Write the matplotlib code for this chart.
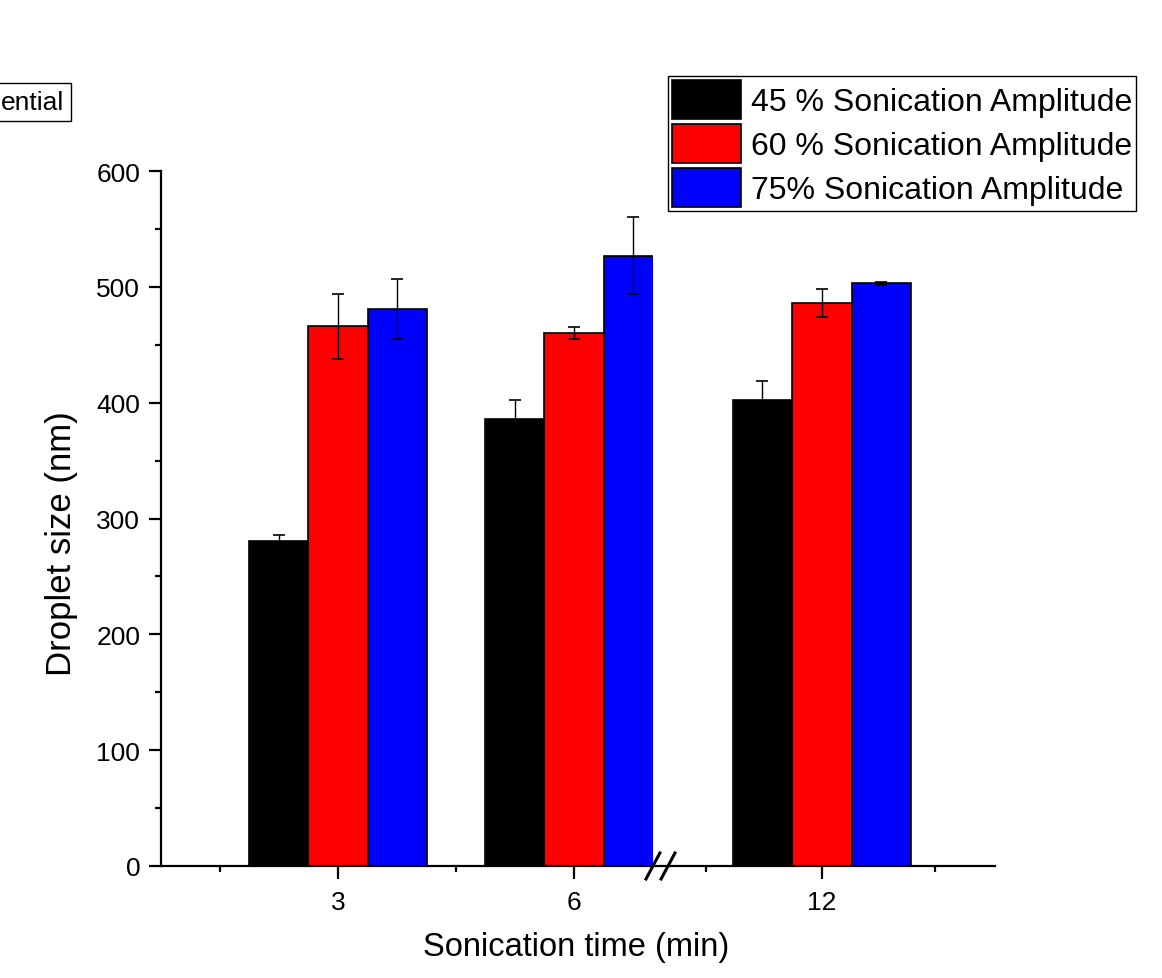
import matplotlib
matplotlib.use("Agg")
import matplotlib.pyplot as plt
from matplotlib.patches import Rectangle
import numpy as np

plt.rcParams['font.family'] = ['Liberation Sans', 'DejaVu Sans']

# data
time_labels = ['3', '6', '12']
series_names = ['45 % Sonication Amplitude', '60 % Sonication Amplitude', '75% Sonication Amplitude']
size_45 = [281, 386, 402]
size_60 = [466, 460, 486]
size_75 = [481, 527, 503]
err_45 = [5, 16, 17]
err_60 = [28, 5, 12]
err_75 = [26, 33, 1.5]
colors = ['#000000', '#ff0000', '#0000ff']

# layout (axis has a break between 6 and 12)
group_pos = np.array([0.0, 1.0, 2.05])
bar_w = 0.252
offsets = [-bar_w, 0.0, bar_w]
break_x = 1.335

fig = plt.figure(figsize=(11.62, 9.79), dpi=100)
ax = fig.add_axes([161 / 1162, 1 - 867 / 979, 834 / 1162, 695 / 979])

values = [size_45, size_60, size_75]
errors = [err_45, err_60, err_75]
bars = []
for vals, errs, col, off, name in zip(values, errors, colors, offsets, series_names):
    b = ax.bar(group_pos + off, vals, width=bar_w, color=col, edgecolor='black',
               linewidth=1.2, label=name, zorder=2)
    ax.errorbar(group_pos + off, vals, yerr=errs, fmt='none', ecolor='black',
                elinewidth=1, capsize=4.3, capthick=1.2, zorder=3)
    bars.append(b)

# cut the 6 min / 75% bar at the axis break
clip = Rectangle((-1, -10), break_x + 1, 1000, transform=ax.transData)
bars[2].patches[1].set_clip_path(clip)

ax.set_xlim(-0.75, 2.784)
ax.set_ylim(0, 600)
ax.set_xticks(group_pos)
ax.set_xticklabels(time_labels)
ax.set_xticks([-0.5, 0.5, 1.559, 2.53], minor=True)
ax.set_yticks(np.arange(0, 601, 100))
ax.set_yticks(np.arange(50, 600, 100), minor=True)

for s in ['top', 'right']:
    ax.spines[s].set_visible(False)
for s in ['left', 'bottom']:
    ax.spines[s].set_linewidth(1.6)

ax.tick_params(axis='both', which='major', direction='out', length=9, width=1.6, labelsize=19)
ax.tick_params(axis='both', which='minor', direction='out', length=4.5, width=1.6)
ax.tick_params(axis='y', which='major', pad=6)
ax.tick_params(axis='x', which='major', pad=8)

ax.set_xlabel('Sonication time (min)', fontsize=23.5)
ax.set_ylabel('Droplet size (nm)', fontsize=25)
ax.xaxis.set_label_coords(0.498, -0.093)
ax.yaxis.set_label_coords(-0.10, 0.465)

# break marks on the x axis
trans = matplotlib.transforms.blended_transform_factory(ax.transData, ax.transAxes)
for x0 in [1.305, 1.369]:
    ax.plot([x0, x0 + 0.059], [-0.0187, 0.0187], color='black', lw=2.2,
            transform=trans, clip_on=False, zorder=5)

leg = fig.legend(handles=bars, labels=series_names, loc='upper left',
                 bbox_to_anchor=(668 / 1162, 1 - 77 / 979), fontsize=23,
                 frameon=True, fancybox=False, framealpha=1, edgecolor='black',
                 handlelength=2.15, handleheight=1.5, handletextpad=0.32,
                 labelspacing=0.16, borderpad=0.12, borderaxespad=0)
leg.get_frame().set_linewidth(1.0)

fig.text(1 / 1162, 1 - 103 / 979, 'ential', fontsize=19, ha='left', va='center',
         bbox=dict(boxstyle='square,pad=0.25', facecolor='white', edgecolor='black', linewidth=1))

fig.savefig('out.png', dpi=100)
